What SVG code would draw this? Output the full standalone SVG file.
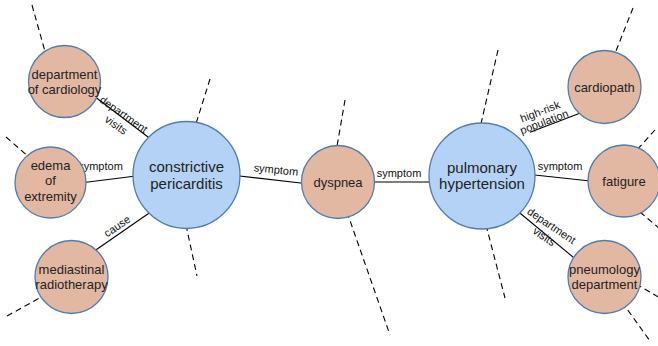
<svg xmlns="http://www.w3.org/2000/svg" width="658" height="346" viewBox="0 0 658 346">
<style>
.bg{fill:#ffffff}
.edge{stroke:#000;stroke-width:1.1;fill:none}
.dash{stroke:#000;stroke-width:1.1;fill:none;stroke-dasharray:6,4}
.peach{fill:#e3b8a2;stroke:#4f7db0;stroke-width:1.3}
.blue{fill:#b4d2f6;stroke:#4f7db0;stroke-width:1.3}
.lbl{font-family:"Liberation Sans",Arial,sans-serif;font-size:13px;fill:#222;text-anchor:middle;dominant-baseline:central}
.big{font-size:15px}
.el{font-family:"Liberation Sans",Arial,sans-serif;font-size:11px;fill:#111;text-anchor:middle;dominant-baseline:central}
</style>
<rect class="bg" width="658" height="346"/>
<g id="connectors">
<line class="edge" x1="90" y1="93" x2="150" y2="138.5"/>
<line class="edge" x1="80" y1="183" x2="140" y2="175.5"/>
<line class="edge" x1="90" y1="254" x2="155" y2="209"/>
<line class="edge" x1="235" y1="175.5" x2="305" y2="183.5"/>
<line class="edge" x1="370" y1="182" x2="435" y2="182"/>
<line class="edge" x1="530" y1="132.2" x2="585" y2="111.3"/>
<line class="edge" x1="530" y1="174.5" x2="595" y2="181.5"/>
<line class="edge" x1="515" y1="209" x2="585" y2="267"/>
<line class="dash" x1="32" y1="5" x2="46" y2="55"/>
<line class="dash" x1="210" y1="79" x2="194" y2="130"/>
<line class="dash" x1="6" y1="137" x2="30" y2="158"/>
<line class="dash" x1="7" y1="316" x2="45" y2="295"/>
<line class="dash" x1="186" y1="225" x2="197" y2="276"/>
<line class="dash" x1="345" y1="100" x2="336" y2="152"/>
<line class="dash" x1="347" y1="212" x2="390" y2="335"/>
<line class="dash" x1="498" y1="50" x2="480" y2="128"/>
<line class="dash" x1="486" y1="225" x2="505" y2="298"/>
<line class="dash" x1="633" y1="8" x2="614" y2="56"/>
<line class="dash" x1="655" y1="130" x2="635" y2="152"/>
<line class="dash" x1="640" y1="212" x2="660" y2="229"/>
<line class="dash" x1="636" y1="284" x2="660" y2="298"/>
<line class="dash" x1="622" y1="302" x2="650" y2="341"/>
<g transform="translate(120,119.5) rotate(35)"><text class="el" x="0" y="-6.5">department</text><text class="el" x="0" y="6.5">visits</text></g>
<text class="el" x="100.5" y="166">symptom</text>
<text class="el" transform="translate(117,226) rotate(-34)">cause</text>
<text class="el" transform="translate(276,169.5) rotate(6)">symptom</text>
<text class="el" x="399" y="173">symptom</text>
<g transform="translate(542,116.5) rotate(-21)"><text class="el" x="0" y="-5.5">high-risk</text><text class="el" x="0" y="5.5">population</text></g>
<text class="el" x="560" y="166">symptom</text>
<g transform="translate(548,231) rotate(34)"><text class="el" x="0" y="-6.5">department</text><text class="el" x="0" y="6.5">visits</text></g>
</g>
<g id="dept-cardiology"><circle class="peach" cx="64.5" cy="81.5" r="36"/><text class="lbl" x="64.5" y="74">department</text><text class="lbl" x="64.5" y="89.5">of cardiology</text></g>
<g id="constrictive-pericarditis"><circle class="blue" cx="186.5" cy="175" r="53.5"/><text class="lbl big" x="186.5" y="166.5">constrictive</text><text class="lbl big" x="186.5" y="183">pericarditis</text></g>
<g id="edema"><circle class="peach" cx="50.5" cy="182.5" r="35.5"/><text class="lbl" x="50.5" y="165">edema</text><text class="lbl" x="50.5" y="180.5">of</text><text class="lbl" x="50.5" y="196">extremity</text></g>
<g id="mediastinal"><circle class="peach" cx="71.5" cy="277" r="36.5"/><text class="lbl" x="71.5" y="269.5">mediastinal</text><text class="lbl" x="71.5" y="284.5">radiotherapy</text></g>
<g id="dyspnea"><circle class="peach" cx="338" cy="182" r="36.5"/><text class="lbl" x="338" y="182">dyspnea</text></g>
<g id="pulmonary-hypertension"><circle class="blue" cx="482" cy="176" r="53"/><text class="lbl big" x="482" y="167.5">pulmonary</text><text class="lbl big" x="482" y="183.5">hypertension</text></g>
<g id="cardiopath"><circle class="peach" cx="604.5" cy="87" r="36.5"/><text class="lbl" x="604.5" y="87.5">cardiopath</text></g>
<g id="fatigue"><circle class="peach" cx="624" cy="181" r="36"/><text class="lbl" x="624" y="181.5">fatigure</text></g>
<g id="pneumology"><circle class="peach" cx="604.5" cy="277" r="36.5"/><text class="lbl" x="604.5" y="269.5">pneumology</text><text class="lbl" x="604.5" y="284.5">department</text></g>
</svg>
